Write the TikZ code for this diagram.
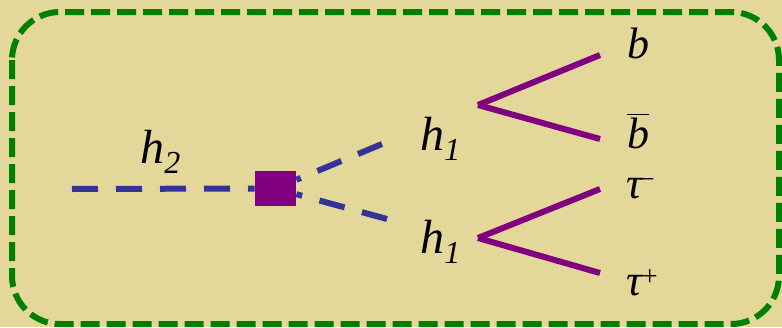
\documentclass[tikz,border=0pt]{standalone}
\usepackage{fontspec}
\setmainfont{Liberation Serif}
\usetikzlibrary{positioning}
\definecolor{panel}{HTML}{E3D899}
\definecolor{frame}{HTML}{008000}
\definecolor{scalar}{HTML}{333399}
\definecolor{fermion}{HTML}{800080}
\newcommand{\subidx}[1]{\raisebox{-5pt}{\fontsize{16}{18}\selectfont #1}}
\newcommand{\supidx}[2]{\kern#1\raisebox{5pt}{\fontsize{14}{16}\selectfont #2}}
\tikzset{
  scal/.style={draw=scalar, line width=3pt, dash pattern=on 13pt off 9pt},
  ferm/.style={draw=fermion, line width=3pt},
  vtxbox/.style={fill=fermion, minimum width=20.5pt, minimum height=17.5pt, inner sep=0pt},
  plbl/.style={font=\fontsize{24}{28}\selectfont\itshape, inner sep=0pt, anchor=base west},
  flbl/.style={font=\fontsize{22}{26}\selectfont\itshape, inner sep=0pt, anchor=base west},
}

\begin{document}
\begin{tikzpicture}[x=0.5pt, y=-0.5pt]
  \useasboundingbox (0,0) rectangle (782,327);
  \fill[panel] (0,0) rectangle (782,327);
  \draw[frame, line width=3pt, dash pattern=on 9.5pt off 3.5pt, rounded corners=24pt] (12,12) rectangle (779,324);
  % scalar legs
  \node[vtxbox] (vtx) at (275.5,188.5) {};
  \coordinate (h2in) at (72,189);
  \coordinate (h1aout) at (382,144);
  \coordinate (h1bout) at (387,219);
  \draw[scal] (h2in) -- (vtx.west);
  \draw[scal] (h1aout) -- (vtx);
  \draw[scal] (h1bout) -- (vtx);
  \node[plbl] (h2) at (140,163) {h\subidx{2}};
  \node[plbl] (h1a) at (420,150) {h\subidx{1}};
  \node[plbl] (h1b) at (420,253) {h\subidx{1}};
  % decay products
  \coordinate (va) at (478,105);
  \coordinate (vb) at (478,238);
  \coordinate (bq) at (600,55);
  \coordinate (bbq) at (600,139);
  \coordinate (tmq) at (600,189);
  \coordinate (tpq) at (600,273);
  \draw[ferm] (va) -- (bq);
  \draw[ferm] (va) -- (bbq);
  \draw[ferm] (vb) -- (tmq);
  \draw[ferm] (vb) -- (tpq);
  \node[flbl] (b) at (627,58) {b};
  \node[flbl] (bbar) at (627,148) {$\overline{\mbox{\itshape b}}$};
  \node[flbl] (taum) at (626,198) {τ\supidx{-2.5pt}{−}};
  \node[flbl] (taup) at (626,295) {τ\supidx{-1pt}{+}};
\end{tikzpicture}
\end{document}
